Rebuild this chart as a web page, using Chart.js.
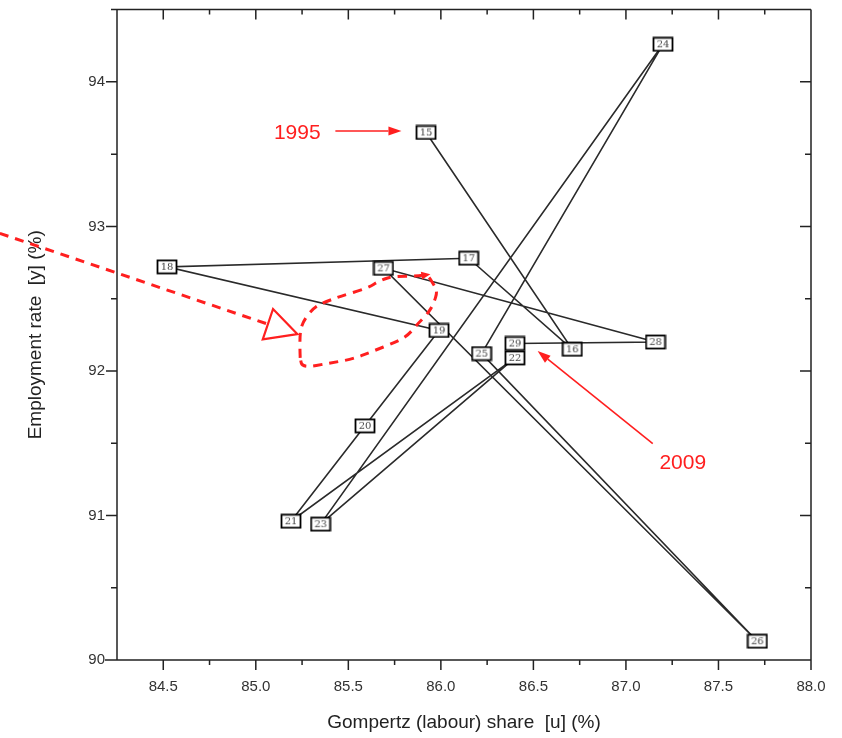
<!DOCTYPE html>
<html>
<head>
<meta charset="utf-8">
<script src="https://cdn.jsdelivr.net/npm/chart.js@4.4.1/dist/chart.umd.min.js"></script>
<style>
  html, body { margin: 0; padding: 0; background: #fff; }
  #wrap { width: 842px; height: 738px; }
</style>
</head>
<body>
<div id="wrap"><canvas id="scatter"></canvas></div>
<script>
// year labels (19xx / 20xx shortened as in the source plot)
const yearLabels = ['15','16','17','18','19','20','21','22','23','24','25','26','27','28','29'];
// Gompertz (labour) share u (%)
const shareU = [85.92, 86.71, 86.15, 84.52, 85.99, 85.59, 85.19, 86.40, 85.35, 87.20, 86.22, 87.71, 85.69, 87.16, 86.40];
// employment rate y (%)
const employY = [93.65, 92.15, 92.78, 92.72, 92.28, 91.62, 90.96, 92.09, 90.94, 94.26, 92.12, 90.13, 92.71, 92.20, 92.19];

const xTickLabels = ['84.5','85.0','85.5','86.0','86.5','87.0','87.5','88.0'];
const yTickLabels = ['90','91','92','93','94'];

// red hand-drawn annotations, in data units
const noteText = [
  { text: '1995', x: 85.224, y: 93.648 },
  { text: '2009', x: 87.307, y: 91.359 }
];
const noteArrows = [
  { from: [85.43, 93.66], to: [85.787, 93.66] },
  { from: [87.145, 91.497], to: [86.523, 92.138] }
];
const dashArrow = { from: [83.617, 92.952], to: [85.224, 92.255] };
const loopPath = [
  [85.240, 92.090], [85.235, 92.255], [85.256, 92.345], [85.311, 92.434], [85.359, 92.469],
  [85.457, 92.517], [85.603, 92.572], [85.673, 92.628], [85.744, 92.655], [85.873, 92.655],
  [85.927, 92.669], [85.960, 92.600], [85.982, 92.552], [85.960, 92.462], [85.927, 92.393],
  [85.873, 92.324], [85.819, 92.241], [85.744, 92.193], [85.635, 92.138], [85.527, 92.083],
  [85.403, 92.055], [85.251, 92.021], [85.240, 92.090]
];

const RED = '#ff1f1f';

// boxed year markers
const boxes = yearLabels.map(lbl => {
  const c = document.createElement('canvas');
  c.width = 22; c.height = 16;
  const g = c.getContext('2d');
  g.fillStyle = '#fff';
  g.fillRect(1, 1, 20, 14);
  g.strokeStyle = '#000';
  g.lineWidth = 1.8;
  g.strokeRect(1.5, 1.5, 19, 13);
  g.fillStyle = '#444';
  g.font = '10px "DejaVu Serif", "Liberation Serif", serif';
  g.textAlign = 'center';
  g.textBaseline = 'middle';
  g.fillText(lbl, 11, 8.5);
  return c;
});

const frameTicks = {
  id: 'frameTicks',
  afterDraw(chart) {
    const { ctx, chartArea: a, scales: { x, y } } = chart;
    ctx.save();
    ctx.strokeStyle = '#222';
    ctx.lineWidth = 1.5;
    ctx.beginPath();
    ctx.moveTo(105, a.bottom); ctx.lineTo(a.right, a.bottom);
    ctx.moveTo(111, a.top); ctx.lineTo(a.right, a.top);
    ctx.moveTo(a.left, a.top); ctx.lineTo(a.left, a.bottom);
    ctx.moveTo(a.right, a.top); ctx.lineTo(a.right, a.bottom);
    for (let v = 84.5; v <= 88.0001; v += 0.25) {
      const px = x.getPixelForValue(v);
      const major = Math.abs(v * 2 - Math.round(v * 2)) < 1e-6;
      const len = major ? 10 : 5;
      ctx.moveTo(px, a.bottom); ctx.lineTo(px, a.bottom + len);
      ctx.moveTo(px, a.top); ctx.lineTo(px, a.top + len);
    }
    for (let v = 90; v <= 94.5001; v += 0.5) {
      const py = y.getPixelForValue(v);
      const major = Math.abs(v - Math.round(v)) < 1e-6;
      const len = major ? 11 : 6;
      ctx.moveTo(a.left, py); ctx.lineTo(a.left - len, py);
      ctx.moveTo(a.right, py); ctx.lineTo(a.right - len, py);
    }
    ctx.stroke();
    ctx.restore();
  }
};

function head(ctx, x0, y0, x1, y1, len, half, fill) {
  const ang = Math.atan2(y1 - y0, x1 - x0);
  const bx = x1 - len * Math.cos(ang), by = y1 - len * Math.sin(ang);
  const nx = -Math.sin(ang) * half, ny = Math.cos(ang) * half;
  ctx.beginPath();
  ctx.moveTo(x1, y1);
  ctx.lineTo(bx + nx, by + ny);
  ctx.lineTo(bx - nx, by - ny);
  ctx.closePath();
  if (fill) ctx.fill(); else ctx.stroke();
  return [bx, by];
}

const redNotes = {
  id: 'redNotes',
  afterDraw(chart) {
    const { ctx, scales: { x, y } } = chart;
    const P = p => [x.getPixelForValue(p[0]), y.getPixelForValue(p[1])];
    ctx.save();
    ctx.fillStyle = RED;
    ctx.strokeStyle = RED;

    ctx.font = '21px "Liberation Sans", Arial, sans-serif';
    ctx.textAlign = 'center';
    ctx.textBaseline = 'middle';
    noteText.forEach(n => ctx.fillText(n.text, x.getPixelForValue(n.x), y.getPixelForValue(n.y)));

    ctx.lineWidth = 1.6;
    noteArrows.forEach(ar => {
      const [x0, y0] = P(ar.from), [x1, y1] = P(ar.to);
      const [bx, by] = head(ctx, x0, y0, x1, y1, 13, 4.5, true);
      ctx.beginPath(); ctx.moveTo(x0, y0); ctx.lineTo(bx, by); ctx.stroke();
    });

    // dashed pointer with hollow triangular head
    const [dx0, dy0] = P(dashArrow.from), [dx1, dy1] = P(dashArrow.to);
    ctx.lineWidth = 2.2;
    const [tbx, tby] = head(ctx, dx0, dy0, dx1, dy1, 31, 16, false);
    ctx.lineWidth = 3;
    ctx.setLineDash([9, 7]);
    ctx.beginPath(); ctx.moveTo(dx0, dy0); ctx.lineTo(tbx, tby); ctx.stroke();

    // dashed loop
    const pts = loopPath.map(P);
    ctx.beginPath();
    ctx.moveTo(pts[0][0], pts[0][1]);
    for (let i = 1; i < pts.length - 1; i++) {
      const mx = (pts[i][0] + pts[i + 1][0]) / 2, my = (pts[i][1] + pts[i + 1][1]) / 2;
      ctx.quadraticCurveTo(pts[i][0], pts[i][1], mx, my);
    }
    ctx.lineTo(pts[pts.length - 1][0], pts[pts.length - 1][1]);
    ctx.stroke();
    ctx.setLineDash([]);
    const t = pts[10], b = pts[9];
    head(ctx, b[0], b[1], t[0] + 3, t[1], 9, 4, true);
    ctx.restore();
  }
};

const tickFont = { family: '"Liberation Sans", Arial, sans-serif', size: 15 };
const titleFont = { family: '"Liberation Sans", Arial, sans-serif', size: 19 };

new Chart(document.getElementById('scatter'), {
  type: 'scatter',
  data: {
    datasets: [{
      label: 'path',
      data: shareU.map((u, i) => ({ x: u, y: employY[i] })),
      showLine: true,
      borderColor: '#2a2a2a',
      borderWidth: 1.6,
      pointStyle: ctx => boxes[ctx.dataIndex],
      pointRadius: 8,
      pointHoverRadius: 8,
      clip: false
    }]
  },
  options: {
    responsive: true,
    maintainAspectRatio: false,
    animation: false,
    events: [],
    layout: { padding: { top: 8, right: 31, left: 0, bottom: 0 } },
    plugins: { legend: { display: false }, tooltip: { enabled: false } },
    scales: {
      x: {
        type: 'linear', min: 84.25, max: 88.0,
        afterFit: s => { s.height = 78; s.paddingLeft = 0; s.paddingRight = 0; },
        afterBuildTicks: s => { s.ticks = xTickLabels.map(v => ({ value: parseFloat(v) })); },
        grid: { display: false, drawTicks: false },
        border: { display: false },
        ticks: { font: tickFont, color: '#333', padding: 18, maxRotation: 0,
                 callback: (v, i) => xTickLabels[i] },
        title: { display: true, text: 'Gompertz (labour) share  [u] (%)', font: titleFont, color: '#222',
                 padding: { top: 0, bottom: 4 } }
      },
      y: {
        type: 'linear', min: 90, max: 94.5,
        afterFit: s => { s.width = 117; s.paddingTop = 0; s.paddingBottom = 0; },
        afterBuildTicks: s => { s.ticks = yTickLabels.map(v => ({ value: parseFloat(v) })); },
        grid: { display: false, drawTicks: false },
        border: { display: false },
        ticks: { font: tickFont, color: '#333', padding: 12,
                 callback: (v, i) => yTickLabels[i] },
        title: { display: true, text: 'Employment rate  [y] (%)', font: titleFont, color: '#222',
                 padding: { top: 24, bottom: 0 } }
      }
    }
  },
  plugins: [frameTicks, redNotes]
});
</script>
</body>
</html>
